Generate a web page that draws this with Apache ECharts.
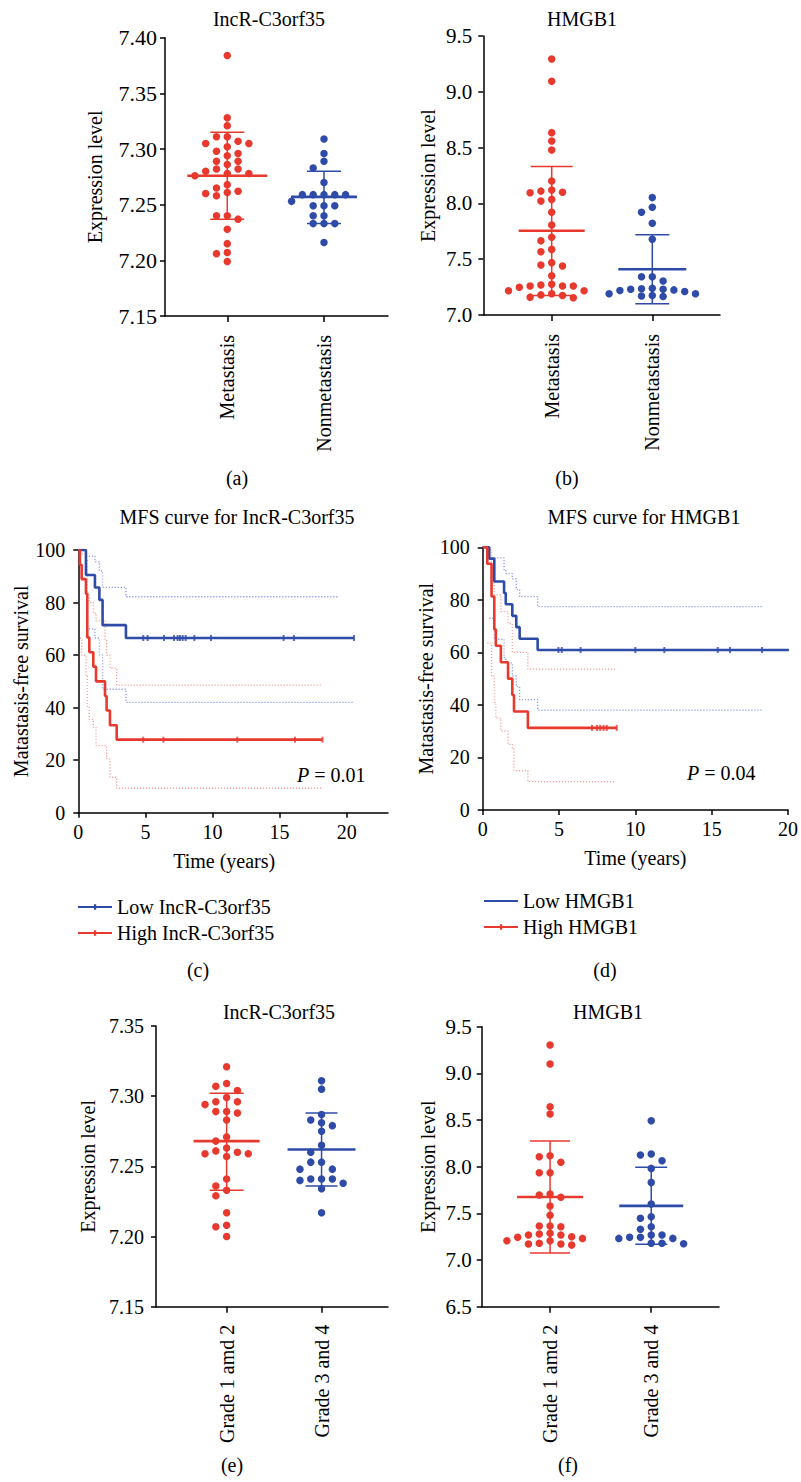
<!DOCTYPE html>
<html><head><meta charset="utf-8">
<script src="https://cdn.jsdelivr.net/npm/echarts@6/dist/echarts.min.js"></script>
<style>html,body{margin:0;padding:0;background:#fff}#c{width:801px;height:1482px}</style>
</head><body><div id="c"></div>
<script>
// ---------------- DATA ----------------
const catsAB = ['Metastasis', 'Nonmetastasis'];
const catsEF = ['Grade 1 amd 2', 'Grade 3 and 4'];

// (a) IncR-C3orf35 expression
const aMetastasis = [7.384, 7.328, 7.321, 7.311, 7.311, 7.307, 7.305, 7.305, 7.302, 7.298, 7.296, 7.294, 7.289, 7.289, 7.286, 7.282, 7.282, 7.280, 7.278, 7.278, 7.276, 7.268, 7.265, 7.262, 7.261, 7.260, 7.258, 7.240, 7.240, 7.237, 7.228, 7.215, 7.207, 7.206, 7.199];
const aNonmetastasis = [7.309, 7.296, 7.289, 7.283, 7.270, 7.259, 7.259, 7.259, 7.259, 7.259, 7.253, 7.249, 7.249, 7.249, 7.240, 7.240, 7.233, 7.233, 7.233, 7.216];
const aMean = [7.276, 7.257];
const aSdLow = [7.237, 7.233];
const aSdHigh = [7.315, 7.280];

// (b) HMGB1 expression
const bMetastasis = [9.294, 9.094, 8.634, 8.559, 8.479, 8.201, 8.120, 8.110, 8.100, 8.096, 8.036, 8.021, 7.920, 7.806, 7.696, 7.666, 7.588, 7.567, 7.469, 7.448, 7.439, 7.352, 7.275, 7.269, 7.260, 7.260, 7.260, 7.248, 7.218, 7.218, 7.190, 7.180, 7.175, 7.160, 7.155];
const bNonmetastasis = [8.052, 7.965, 7.920, 7.822, 7.678, 7.343, 7.343, 7.305, 7.240, 7.235, 7.230, 7.230, 7.225, 7.220, 7.210, 7.190, 7.190, 7.175, 7.170, 7.165];
const bMean = [7.755, 7.410];
const bSdLow = [7.175, 7.100];
const bSdHigh = [8.330, 7.720];

// (c) MFS curve for IncR-C3orf35 (time in years, survival in %)
const cLowTime = [0, 0.57, 1.24, 1.57, 1.81, 3.55, 20.55];
const cLowSurv = [100, 90.5, 85.7, 81.0, 71.4, 66.5, 66.5];
const cLowCensor = [4.84, 5.17, 6.39, 7.13, 7.40, 7.58, 7.78, 8.00, 8.65, 9.89, 15.3, 16.07, 20.55];
const cLowUpperTime = [0.57, 1.24, 1.57, 1.81, 3.55, 19.4];
const cLowUpper = [97.7, 95.5, 92.0, 85.8, 82.2, 82.2];
const cLowLowerTime = [0.57, 1.24, 1.57, 1.81, 3.55, 20.55];
const cLowLower = [70.0, 66.5, 60.0, 47.0, 42.0, 42.0];
const cHighTime = [0, 0.12, 0.25, 0.57, 0.67, 0.82, 1.12, 1.32, 1.99, 2.11, 2.36, 2.86, 18.2];
const cHighSurv = [100, 94.4, 88.9, 83.3, 66.7, 61.1, 55.6, 50.0, 44.4, 38.9, 33.3, 27.8, 27.8];
const cHighCensor = [4.84, 6.34, 11.85, 16.15, 18.2];
const cHighUpperTime = [0.25, 0.57, 0.67, 0.82, 1.12, 1.32, 1.99, 2.11, 2.36, 2.86, 18.2];
const cHighUpper = [98.5, 96.0, 83.5, 80.0, 76.0, 73.0, 66.0, 60.0, 55.0, 48.6, 48.6];
const cHighLowerTime = [0.12, 0.25, 0.57, 0.67, 0.82, 1.12, 1.32, 1.99, 2.11, 2.36, 2.86, 18.2];
const cHighLower = [66.4, 60.0, 52.0, 40.5, 35.5, 32.5, 25.5, 25.5, 20.5, 13.5, 9.3, 9.3];

// (d) MFS curve for HMGB1
const dLowTime = [0, 0.43, 0.76, 1.40, 1.51, 1.94, 2.20, 2.42, 3.60, 20.06];
const dLowSurv = [100, 95.7, 87.0, 82.6, 78.3, 73.9, 69.6, 65.2, 60.9, 60.9];
const dLowCensor = [4.96, 5.18, 6.41, 10.0, 11.9, 15.4, 16.2, 18.3];
const dLowUpperTime = [0.76, 1.40, 1.51, 1.94, 2.20, 2.42, 3.60, 18.4];
const dLowUpper = [96.0, 91.5, 90.0, 88.0, 84.0, 81.2, 77.4, 77.4];
const dLowLowerTime = [0.43, 0.76, 1.40, 1.51, 1.94, 2.20, 2.42, 3.60, 18.3];
const dLowLower = [73.0, 65.0, 58.0, 56.0, 51.0, 47.0, 42.0, 38.0, 38.0];
const dHighTime = [0, 0.30, 0.58, 0.76, 0.86, 1.19, 1.66, 1.94, 2.05, 2.96, 8.78];
const dHighSurv = [100, 93.75, 81.25, 68.75, 62.5, 56.25, 50.0, 43.75, 37.5, 31.25, 31.25];
const dHighCensor = [7.16, 7.49, 7.70, 7.92, 8.13, 8.78];
const dHighUpperTime = [0.30, 0.58, 0.76, 1.19, 1.66, 1.94, 2.96, 8.67];
const dHighUpper = [99.0, 89.0, 82.0, 75.5, 71.0, 60.0, 53.6, 53.6];
const dHighLowerTime = [0.30, 0.58, 0.76, 0.86, 1.19, 1.66, 1.94, 2.05, 2.96, 8.67];
const dHighLower = [63.5, 51.0, 41.0, 35.0, 30.0, 25.0, 23.5, 15.0, 10.8, 10.8];

// (e) IncR-C3orf35 by grade
const eGrade12 = [7.321, 7.309, 7.307, 7.304, 7.299, 7.296, 7.296, 7.294, 7.289, 7.289, 7.288, 7.283, 7.271, 7.268, 7.263, 7.261, 7.260, 7.259, 7.259, 7.257, 7.241, 7.236, 7.233, 7.229, 7.217, 7.208, 7.207, 7.200];
const eGrade34 = [7.311, 7.305, 7.287, 7.283, 7.281, 7.279, 7.275, 7.265, 7.260, 7.253, 7.253, 7.248, 7.248, 7.241, 7.241, 7.240, 7.241, 7.238, 7.234, 7.217];
const eMean = [7.268, 7.262];
const eSdLow = [7.233, 7.236];
const eSdHigh = [7.302, 7.288];

// (f) HMGB1 by grade
const fGrade12 = [9.304, 9.100, 8.643, 8.564, 8.118, 8.107, 8.047, 7.936, 7.936, 7.707, 7.697, 7.672, 7.579, 7.479, 7.364, 7.364, 7.357, 7.286, 7.279, 7.268, 7.268, 7.250, 7.243, 7.232, 7.207, 7.207, 7.180, 7.172, 7.172, 7.160];
const fGrade34 = [8.493, 8.136, 8.125, 8.064, 7.982, 7.832, 7.600, 7.464, 7.447, 7.357, 7.329, 7.268, 7.268, 7.243, 7.243, 7.232, 7.232, 7.180, 7.180, 7.175];
const fMean = [7.675, 7.580];
const fSdLow = [7.075, 7.170];
const fSdHigh = [8.275, 7.995];

// ---------------- STYLE / LAYOUT ----------------
const FONT = 'Liberation Serif';
const RED = '#e8392f', BLUE = '#2f4ba8';
const RED_LIGHT = '#f4a09c', BLUE_LIGHT = '#8d98e4';
const TXT = { fontFamily: FONT, fontSize: 20, color: '#000' };

const grids = [], xAxes = [], yAxes = [], series = [], graphics = [], legends = [];

function swarm(values, yPx, spacing, minDist) {
  const order = values.map((v, i) => i).sort((i, j) => values[j] - values[i]);
  const placed = [], offs = new Array(values.length).fill(0);
  for (const i of order) {
    const y = values[i] * yPx;
    let done = false;
    for (let k = 0; k < 30 && !done; k++) {
      const cands = k === 0 ? [0] : [-k * spacing, k * spacing];
      for (const c of cands) {
        if (placed.every(p => Math.hypot(p.x - c, p.y - y) >= minDist)) {
          offs[i] = c; placed.push({ x: c, y }); done = true; break;
        }
      }
    }
  }
  return offs;
}

function errRender(color, meanHalf, capHalf) {
  return function (params, api) {
    const m = api.coord([api.value(0), api.value(1)]);
    const lo = api.coord([api.value(0), api.value(2)]);
    const hi = api.coord([api.value(0), api.value(3)]);
    return { type: 'group', children: [
      { type: 'line', shape: { x1: m[0] - meanHalf, y1: m[1], x2: m[0] + meanHalf, y2: m[1] }, style: { stroke: color, lineWidth: 2.6 } },
      { type: 'line', shape: { x1: hi[0], y1: hi[1], x2: lo[0], y2: lo[1] }, style: { stroke: color, lineWidth: 1.5 } },
      { type: 'line', shape: { x1: hi[0] - capHalf, y1: hi[1], x2: hi[0] + capHalf, y2: hi[1] }, style: { stroke: color, lineWidth: 1.5 } },
      { type: 'line', shape: { x1: lo[0] - capHalf, y1: lo[1], x2: lo[0] + capHalf, y2: lo[1] }, style: { stroke: color, lineWidth: 1.5 } }
    ]};
  };
}

function axisLineStyle() { return { show: true, onZero: false, lineStyle: { color: '#000', width: 1.5 } }; }

function addScatterPanel(p) {
  const gi = grids.length;
  grids.push(Object.assign({ containLabel: false }, p.grid));
  xAxes.push({
    gridIndex: gi, type: 'value', min: p.xMin, max: p.xMax,
    axisLine: axisLineStyle(),
    axisTick: { show: true, customValues: [1, 2], length: 6, lineStyle: { color: '#000', width: 1.5 } },
    axisLabel: Object.assign({ customValues: [1, 2], rotate: 90, margin: p.catMargin,
      formatter: v => p.cats[Math.round(v) - 1] || '' }, TXT),
    splitLine: { show: false }
  });
  yAxes.push({
    gridIndex: gi, type: 'value', min: p.yMin, max: p.yMax, interval: p.yInt,
    name: 'Expression level', nameLocation: 'middle', nameGap: p.nameGap, nameTextStyle: TXT,
    axisLine: axisLineStyle(),
    axisTick: { show: true, length: 5, lineStyle: { color: '#000', width: 1.5 } },
    axisLabel: Object.assign({}, TXT, { margin: p.labelMargin, fontSize: p.tickFont, formatter: v => v.toFixed(p.dec) }),
    splitLine: { show: false }
  });
  const yPx = p.grid.height / (p.yMax - p.yMin);
  const xPx = p.grid.width / (p.xMax - p.xMin);
  p.groups.forEach((g, k) => {
    const pos = k + 1;
    series.push({ type: 'custom', xAxisIndex: gi, yAxisIndex: gi, z: 2, silent: true,
      data: [[pos, p.mean[k], p.lo[k], p.hi[k]]], renderItem: errRender(g.color, g.meanHalf, g.capHalf) });
    const offs = swarm(g.values, yPx, 10.8, 7.2);
    series.push({ type: 'scatter', xAxisIndex: gi, yAxisIndex: gi, z: 3, symbolSize: 7.5, silent: true,
      itemStyle: { color: g.color, opacity: 1 },
      data: g.values.map((v, i) => [pos + offs[i] / xPx, v]) });
  });
  graphics.push({ type: 'text', x: p.titleX, y: p.titleY, style: { text: p.title, textAlign: 'center', textVerticalAlign: 'middle', fontFamily: FONT, fontSize: 20, fill: '#000' } });
}

function stepAt(times, surv, t) {
  let v = surv[0];
  for (let i = 0; i < times.length; i++) if (times[i] <= t) v = surv[i];
  return v;
}

function addKMPanel(p) {
  const gi = grids.length;
  grids.push(Object.assign({ containLabel: false }, p.grid));
  const ticks = [0, 5, 10, 15, 20];
  xAxes.push({
    gridIndex: gi, type: 'value', min: 0, max: p.xMax,
    name: 'Time (years)', nameLocation: 'middle', nameGap: 38,
    nameTextStyle: Object.assign({ padding: p.namePad }, TXT),
    axisLine: axisLineStyle(),
    axisTick: { show: true, customValues: ticks, length: 5, lineStyle: { color: '#000', width: 1.5 } },
    axisLabel: Object.assign({ customValues: ticks, margin: 9 }, TXT),
    splitLine: { show: false }
  });
  yAxes.push({
    gridIndex: gi, type: 'value', min: 0, max: 100, interval: 20,
    name: 'Matastasis-free survival', nameLocation: 'middle', nameGap: 45, nameTextStyle: TXT,
    axisLine: axisLineStyle(),
    axisTick: { show: true, length: 5, lineStyle: { color: '#000', width: 1.5 } },
    axisLabel: Object.assign({ margin: 13 }, TXT),
    splitLine: { show: false }
  });
  p.curves.forEach(c => {
    const base = { xAxisIndex: gi, yAxisIndex: gi, silent: true, animation: false };
    series.push(Object.assign({ type: 'line', step: 'end', symbol: 'none', z: 2,
      data: c.ut.map((t, i) => [t, c.u[i]]),
      lineStyle: { type: [1.2, 1.8], width: 1.3, color: c.light } }, base));
    series.push(Object.assign({ type: 'line', step: 'end', symbol: 'none', z: 2,
      data: c.lt.map((t, i) => [t, c.l[i]]),
      lineStyle: { type: [1.2, 1.8], width: 1.3, color: c.light } }, base));
    series.push(Object.assign({ type: 'line', name: c.name, step: 'end', symbol: 'none', z: 3,
      data: c.t.map((t, i) => [t, c.s[i]]),
      itemStyle: { color: c.color }, lineStyle: { width: 2.6, color: c.color } }, base));
    series.push(Object.assign({ type: 'scatter', symbol: 'rect', symbolSize: [2, 6], z: 4,
      itemStyle: { color: c.color },
      data: c.censor.map(t => [t, stepAt(c.t, c.s, t)]) }, base));
  });
  graphics.push({ type: 'text', x: p.titleX, y: p.titleY, style: { text: p.title, textAlign: 'center', textVerticalAlign: 'middle', fontFamily: FONT, fontSize: 20, fill: '#000' } });
  graphics.push({ type: 'text', x: p.pX, y: p.pY, style: { text: '{i|P} = ' + p.pValue, textVerticalAlign: 'middle', fontFamily: FONT, fontSize: 20, fill: '#000',
    rich: { i: { fontStyle: 'italic', fontFamily: FONT, fontSize: 20, fill: '#000' } } } });
  const box = 'M0,0H0.01V0.01H0Z M33.99,7.99H34V8H33.99Z ';
  const lineOnly = 'path://' + box + 'M0,3.1H34V4.9H0Z';
  const lineTick = 'path://' + box + 'M0,3.1H34V4.9H0Z M16,1.2H18.2V6.8H16Z';
  legends.push({
    orient: 'vertical', left: p.legX, top: p.legY, itemWidth: 34, itemHeight: 8, itemGap: 6, padding: 0,
    selectedMode: false, textStyle: Object.assign({ lineHeight: 20 }, TXT),
    data: p.curves.map(c => ({ name: c.name, icon: c.legendTick ? lineTick : lineOnly }))
  });
}

// ---------------- PANELS ----------------
addScatterPanel({
  grid: { left: 165, top: 37.7, width: 223, height: 278.3 }, xMin: 0.356, xMax: 2.662,
  yMin: 7.15, yMax: 7.40, yInt: 0.05, dec: 2, nameGap: 60, labelMargin: 8, catMargin: 19, tickFont: 22,
  cats: catsAB, title: 'IncR-C3orf35', titleX: 269, titleY: 19,
  mean: aMean, lo: aSdLow, hi: aSdHigh,
  groups: [ { values: aMetastasis, color: RED, meanHalf: 40, capHalf: 17 },
            { values: aNonmetastasis, color: BLUE, meanHalf: 33, capHalf: 17 } ]
});
addScatterPanel({
  grid: { left: 483.3, top: 36, width: 236.7, height: 279 }, xMin: 0.32, xMax: 2.673,
  yMin: 7.0, yMax: 9.5, yInt: 0.5, dec: 1, nameGap: 45, labelMargin: 11, catMargin: 19, tickFont: 21,
  cats: catsAB, title: 'HMGB1', titleX: 582, titleY: 19,
  mean: bMean, lo: bSdLow, hi: bSdHigh,
  groups: [ { values: bMetastasis, color: RED, meanHalf: 33, capHalf: 21 },
            { values: bNonmetastasis, color: BLUE, meanHalf: 34, capHalf: 17 } ]
});
addKMPanel({
  grid: { left: 78.3, top: 550, width: 309.7, height: 262.7 }, xMax: 23.08, namePad: [0, 18, 0, 0],
  title: 'MFS curve for IncR-C3orf35', titleX: 237, titleY: 517,
  pValue: '0.01', pX: 297, pY: 775, legX: 78, legY: 897,
  curves: [
    { name: 'Low IncR-C3orf35', color: BLUE, light: BLUE_LIGHT, legendTick: true,
      t: cLowTime, s: cLowSurv, censor: cLowCensor, ut: cLowUpperTime, u: cLowUpper, lt: cLowLowerTime, l: cLowLower },
    { name: 'High IncR-C3orf35', color: RED, light: RED_LIGHT, legendTick: true,
      t: cHighTime, s: cHighSurv, censor: cHighCensor, ut: cHighUpperTime, u: cHighUpper, lt: cHighLowerTime, l: cHighLower }
  ]
});
addKMPanel({
  grid: { left: 482.7, top: 547.3, width: 309, height: 262.7 }, xMax: 20, namePad: [0, 0, 0, 0],
  title: 'MFS curve for HMGB1', titleX: 644, titleY: 517,
  pValue: '0.04', pX: 687, pY: 773, legX: 484, legY: 891,
  curves: [
    { name: 'Low HMGB1', color: BLUE, light: BLUE_LIGHT, legendTick: false,
      t: dLowTime, s: dLowSurv, censor: dLowCensor, ut: dLowUpperTime, u: dLowUpper, lt: dLowLowerTime, l: dLowLower },
    { name: 'High HMGB1', color: RED, light: RED_LIGHT, legendTick: true,
      t: dHighTime, s: dHighSurv, censor: dHighCensor, ut: dHighUpperTime, u: dHighUpper, lt: dHighLowerTime, l: dHighLower }
  ]
});
addScatterPanel({
  grid: { left: 156, top: 1026, width: 232, height: 280.7 }, xMin: 0.256, xMax: 2.70,
  yMin: 7.15, yMax: 7.35, yInt: 0.05, dec: 2, nameGap: 58, labelMargin: 12, catMargin: 18, tickFont: 20,
  cats: catsEF, title: 'IncR-C3orf35', titleX: 279, titleY: 1012,
  mean: eMean, lo: eSdLow, hi: eSdHigh,
  groups: [ { values: eGrade12, color: RED, meanHalf: 33, capHalf: 17 },
            { values: eGrade34, color: BLUE, meanHalf: 34, capHalf: 16 } ]
});
addScatterPanel({
  grid: { left: 481.7, top: 1026.7, width: 237.3, height: 280 }, xMin: 0.324, xMax: 2.67,
  yMin: 6.5, yMax: 9.5, yInt: 0.5, dec: 1, nameGap: 44, labelMargin: 10, catMargin: 18, tickFont: 21,
  cats: catsEF, title: 'HMGB1', titleX: 608, titleY: 1012,
  mean: fMean, lo: fSdLow, hi: fSdHigh,
  groups: [ { values: fGrade12, color: RED, meanHalf: 33, capHalf: 20 },
            { values: fGrade34, color: BLUE, meanHalf: 32, capHalf: 16 } ]
});

// panel letters
[['(a)', 237, 478], ['(b)', 567, 478], ['(c)', 198, 970], ['(d)', 605, 970], ['(e)', 232, 1465], ['(f)', 568, 1465]]
  .forEach(([t, x, y]) => graphics.push({ type: 'text', x, y, style: { text: t, textAlign: 'center', textVerticalAlign: 'middle', fontFamily: FONT, fontSize: 20, fill: '#000' } }));

const chart = echarts.init(document.getElementById('c'), null, { renderer: 'svg' });
chart.setOption({
  animation: false, backgroundColor: '#fff',
  grid: grids, xAxis: xAxes, yAxis: yAxes, series, legend: legends, graphic: graphics
});
</script></body></html>
